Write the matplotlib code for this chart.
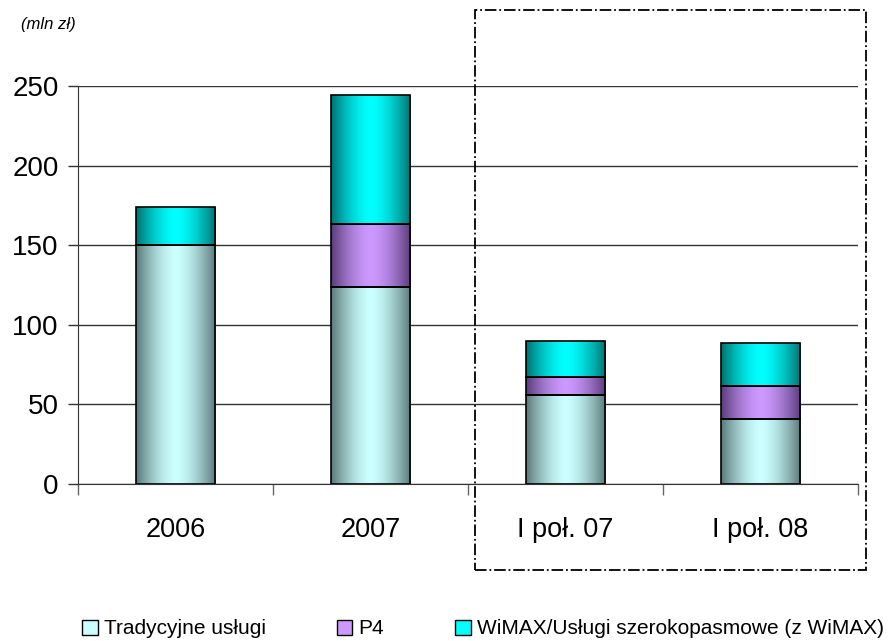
import numpy as np
import matplotlib
matplotlib.use("Agg")
import matplotlib.pyplot as plt
from matplotlib.patches import Rectangle, Patch
from matplotlib.colors import LinearSegmentedColormap

plt.rcParams['font.family'] = ['Liberation Sans', 'DejaVu Sans']

categories = ['2006', '2007', 'I poł. 07', 'I poł. 08']
tradycyjne = [150, 123.5, 56, 41]
p4 = [0, 40, 11, 20.5]
wimax = [24, 81, 23, 27]
series_names = ['Tradycyjne usługi', 'P4', 'WiMAX/Usługi szerokopasmowe (z WiMAX)']
yticks = [0, 50, 100, 150, 200, 250]

center_cols = ['#CCFFFF', '#CC99FF', '#00FFFF']
edge_cols = ['#5A7878', '#5A3C78', '#007070']

fig = plt.figure(figsize=(8.88, 6.41), dpi=100)
ax = fig.add_axes([78/888, 1-484/641, 780/888, 398/641])

x = np.arange(len(categories))
width = 0.41
bottoms = np.zeros(len(categories))
profile = np.linspace(0, 1, 200)
prof = 1 - np.abs(2 * profile - 1) ** 1.6
grad = np.tile(prof, (2, 1))

for vals, cc, ec in zip([tradycyjne, p4, wimax], center_cols, edge_cols):
    cmap = LinearSegmentedColormap.from_list('g', [ec, cc])
    bars = ax.bar(x, vals, width, bottom=bottoms, color='none', edgecolor='black',
                  linewidth=1.2, zorder=4)
    for b in bars:
        if b.get_height() <= 0:
            b.set_visible(False)
            continue
        x0, y0, w, h = b.get_x(), b.get_y(), b.get_width(), b.get_height()
        im = ax.imshow(grad, cmap=cmap, aspect='auto', extent=(x0, x0 + w, y0, y0 + h),
                       zorder=3, interpolation='bilinear', vmin=0, vmax=1)
        clip = Rectangle((x0, y0), w, h, transform=ax.transData)
        im.set_clip_path(clip)
    bottoms = bottoms + np.array(vals)

ax.set_xlim(-0.5, len(categories) - 0.5)
ax.set_ylim(0, 250)
ax.set_yticks(yticks)
ax.set_yticklabels([str(t) for t in yticks], fontsize=20)
ax.yaxis.grid(True, color='#333333', linewidth=1, zorder=0)
ax.set_axisbelow(True)
ax.set_xticks(x)
ax.set_xticklabels(categories, fontsize=19.5)
ax.tick_params(axis='x', length=0, pad=24)
ax.tick_params(axis='y', length=7, width=1, color='#333333', pad=7)
ax.set_xticks(np.arange(-0.5, len(categories), 1), minor=True)
ax.tick_params(axis='x', which='minor', length=8, width=1, color='#666666')
for s in ['top', 'right']:
    ax.spines[s].set_visible(False)
ax.spines['left'].set_color('#333333')
ax.spines['bottom'].set_color('#333333')

fig.text(21/888, 1-25/641, '(mln zł)', fontsize=12, style='italic', va='center', ha='left')

rect = Rectangle((475/888, 1-570/641), 391/888, 560/641, transform=fig.transFigure,
                 fill=False, edgecolor='black', linewidth=1.3, linestyle='-.', zorder=10)
fig.patches.append(rect)

handles = [Patch(facecolor=c, edgecolor='black', linewidth=1) for c in center_cols]
fig.legend(handles, series_names, loc='center', bbox_to_anchor=(483/888, 1-629/641),
           ncol=3, frameon=False, fontsize=15, handlelength=0.75, handleheight=0.75,
           handletextpad=0.3, columnspacing=3.4, borderpad=0.1)

fig.savefig('out.png', dpi=100)
